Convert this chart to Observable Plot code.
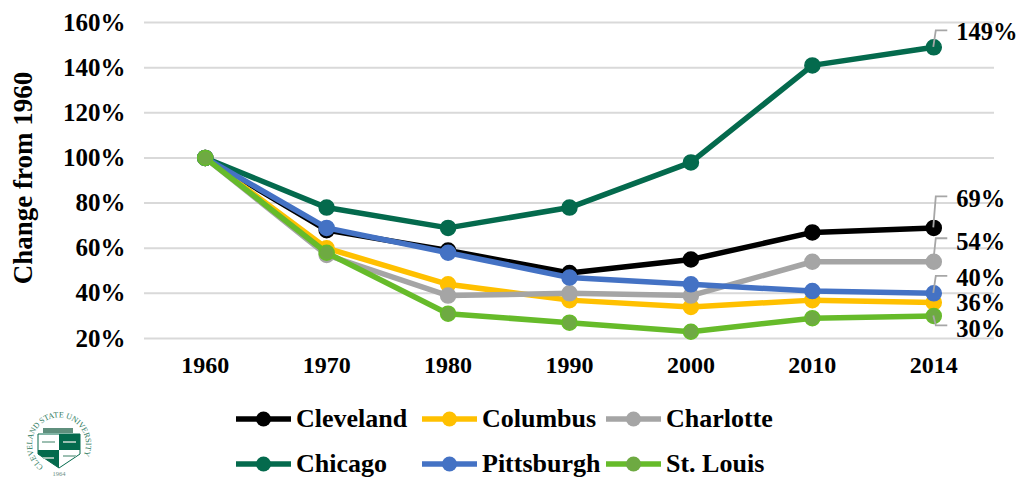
<!DOCTYPE html>
<html><head><meta charset="utf-8">
<script src="https://cdn.jsdelivr.net/npm/d3@7"></script>
<script src="https://cdn.jsdelivr.net/npm/@observablehq/plot@0.6"></script>
<style>
html,body{margin:0;padding:0;background:#fff;overflow:hidden}
#wrap{position:relative;width:1018px;height:477px;overflow:hidden;font-family:"Liberation Serif",serif;font-weight:bold;color:#000}
#wrap>svg{display:block}
.lg{position:absolute;font-size:26px;line-height:28px;white-space:nowrap;height:28px}
.lg svg{position:absolute;left:0;top:0}
.lg span{position:absolute;left:60px;top:0}
#logo{position:absolute;left:17px;top:407px}
</style></head><body><div id="wrap"></div>
<script>
const years = [1960,1970,1980,1990,2000,2010,2014];
const names = ["Cleveland","Columbus","Charlotte","Chicago","Pittsburgh","St. Louis"];
const colors = ["#000000","#FFC000","#A5A5A5","#046A4D","#4472C4","#66BB2A"];
const dotColors = ["#000000","#FFC000","#A5A5A5","#046A4D","#4472C4","#6EAA42"];
const cleveland = [100,68,59,49,55,67,69];
const columbus = [100,60,44,37,34,37,36];
const charlotte = [100,57,39,40,39,54,54];
const chicago = [100,78,69,78,98,141,149];
const pittsburgh = [100,69,58,47,44,41,40];
const stLouis = [100,58,31,27,23,29,30];
const seriesValues = [cleveland,columbus,charlotte,chicago,pittsburgh,stLouis];
const yTicks = [20,40,60,80,100,120,140,160];
const labelled = [
  {v:149,t:"149%",up:16.5,ly:-15},
  {v:69,t:"69%",up:31,ly:-29},
  {v:54,t:"54%",up:23,ly:-20},
  {v:40,t:"40%",up:17,ly:-15},
  {v:36,t:"36%",ly:1,none:true},
  {v:30,t:"30%",up:-10,ly:13}
];
const legendX = [236,422,606];
const legendY = [405,450];

const rows = names.flatMap((n,i)=>years.map((y,j)=>({name:n,i,year:y,value:seriesValues[i][j]})));
const font = {fontFamily:"Liberation Serif",fontWeight:"bold"};

function leaders(index, scales, values, dims){
  const g = d3.create("svg:g");
  const x = scales.x(2014);
  for (const d of labelled){
    if (d.none) continue;
    const y = scales.y(d.v);
    g.append("path")
      .attr("d",`M${x},${y}L${x+2.5},${y-d.up}H${x+14}`)
      .attr("fill","none").attr("stroke","#A6A6A6").attr("stroke-width",1.8);
  }
  return g.node();
}

const marks = [
  Plot.ruleY(yTicks,{stroke:"#D9D9D9",strokeWidth:2,strokeOpacity:1}),
  ...names.flatMap((n,i)=>{
    const data = rows.filter(r=>r.i===i);
    return [
      Plot.line(data,{x:"year",y:"value",stroke:colors[i],strokeWidth:5.5,strokeLinejoin:"round"}),
      Plot.dot(data,{x:"year",y:"value",r:7.5,fill:dotColors[i],stroke:colors[i],strokeWidth:1.5})
    ];
  }),
  leaders,
  ...labelled.map(d=>Plot.text([d],{x:()=>2014,y:"v",text:"t",dx:22.5,dy:d.ly,textAnchor:"start",fontSize:24.5,fill:"#000",...font}))
];

const chart = Plot.plot({
  width:1018,height:405,
  marginLeft:144,marginRight:24,marginTop:22,marginBottom:67,
  style:{background:"#fff",fontFamily:"Liberation Serif"},
  x:{type:"point",domain:years,padding:0.5,round:false,label:null},
  y:{domain:[20,160],label:null},
  marks:[
    Plot.axisX({tickSize:0,tickPadding:17,fontSize:24,label:null,tickFormat:d=>String(d),...font,fill:"#000"}),
    Plot.axisY(yTicks,{tickSize:0,tickPadding:19,fontSize:25,label:null,tickFormat:d=>d+"%",...font,fill:"#000"}),
    ...marks
  ]
});
const wrap = document.getElementById("wrap");
wrap.appendChild(chart);

// y title
const svgNS="http://www.w3.org/2000/svg";
const title=document.createElementNS(svgNS,"text");
title.textContent="Change from 1960";
title.setAttribute("transform","translate(32,178) rotate(-90)");
title.setAttribute("text-anchor","middle");
title.setAttribute("font-size","27");
title.setAttribute("font-family","Liberation Serif");
title.setAttribute("font-weight","bold");
title.setAttribute("fill","#000");
chart.appendChild(title);

// legend
names.forEach((n,i)=>{
  const d=document.createElement("div");
  d.className="lg";
  d.style.left=legendX[i%3]+"px";
  d.style.top=legendY[Math.floor(i/3)]+"px";
  d.innerHTML=`<svg width="56" height="28"><line x1="0" x2="55" y1="14" y2="14" stroke="${colors[i]}" stroke-width="5.5"/><circle cx="27.5" cy="14" r="7.5" fill="${dotColors[i]}"/></svg><span>${n}</span>`;
  wrap.appendChild(d);
});

// seal
const logo=document.createElement("div");
logo.id="logo";
logo.innerHTML=`<svg width="84" height="70" viewBox="-5 -5 84 70">
<defs><path id="arc" d="M21.5,54.5 A27,27 0 1 1 52.5,54.5"/></defs>
<text font-family="Liberation Serif" font-size="8" font-weight="normal" fill="#2E7A60"><textPath href="#arc" textLength="122" lengthAdjust="spacing">CLEVELAND STATE UNIVERSITY</textPath></text>
<text x="37" y="64" text-anchor="middle" font-family="Liberation Serif" font-size="6.5" font-weight="normal" fill="#6b8f84">1964</text>
<rect x="21" y="16" width="30" height="5" fill="#5f8f7d"/>
<path d="M16,22H58V42L37,56L16,42Z" fill="#fff" stroke="#046A4D" stroke-width="1"/>
<path d="M37,22H58V38H37ZM16,38H37V56L16,42Z" fill="#046A4D"/>
<path d="M20,30H33M41,30H54M21,46H32M41,44H54" stroke="#9dbfb2" stroke-width="2" fill="none"/>
</svg>`;
wrap.appendChild(logo);
</script></body></html>
